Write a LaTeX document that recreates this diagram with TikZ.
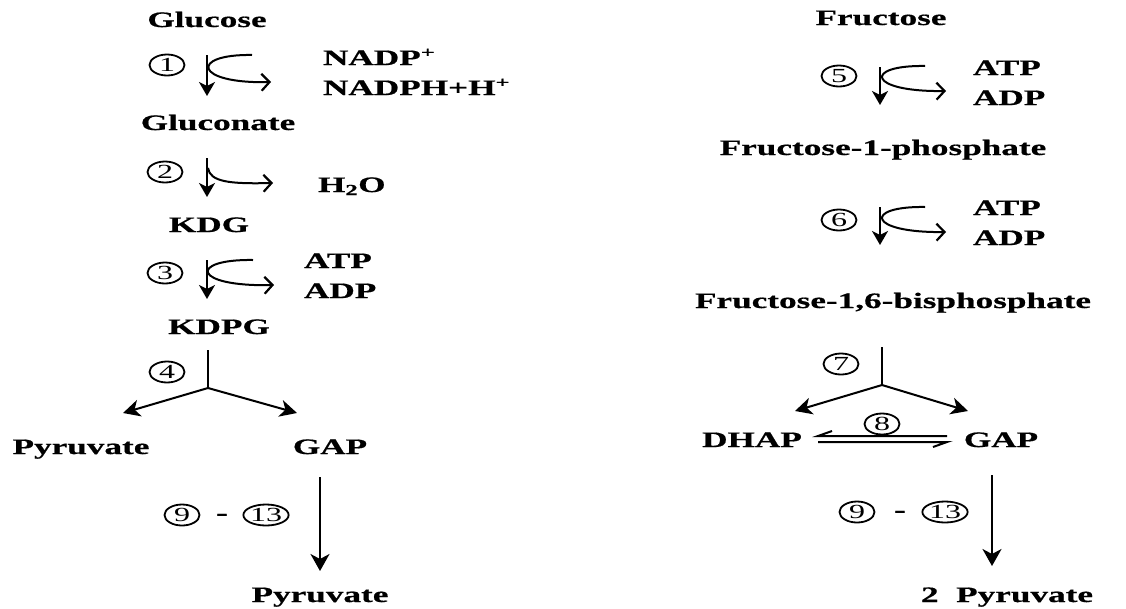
\documentclass[tikz,border=0pt]{standalone}
\usepackage{fontspec}
\setmainfont{Liberation Serif}[FakeStretch=1.6,BoldFeatures={FakeBold=0.6}]
\usetikzlibrary{arrows.meta,shapes.geometric}

\begin{document}
\begin{tikzpicture}[x=1pt,y=-1pt,line width=2pt,
  lbl/.style={font=\bfseries\fontsize{22}{26}\selectfont,inner sep=0pt,anchor=base},
  side/.style={lbl,anchor=base west},
  num/.style={ellipse,draw,line width=1.8pt,minimum width=35pt,minimum height=21pt,
              inner sep=0pt,font=\fontsize{20}{20}\selectfont},
  dashlbl/.style={lbl,anchor=center},
  stepdown/.style={-{Stealth[length=14pt,width=16pt,inset=4pt]}},
  cofactor/.style={-{Straight Barb[length=8pt,width=17pt,line width=2.2pt]}},
  split/.style={-{Stealth[length=17pt,width=17pt,inset=5pt]}},
  longarrow/.style={-{Stealth[length=17pt,width=19pt,inset=5pt]}}]
\useasboundingbox (0,0) rectangle (1126,608);

% ---------- Entner-Doudoroff branch (glucose) ----------
\node[lbl]  (glc)   at (207,27)  {Glucose};
\node[lbl]  (glcn)  at (218,130) {Gluconate};
\node[lbl]  (kdg)   at (209,232) {KDG};
\node[lbl]  (kdpg)  at (219,334) {KDPG};
\node[lbl]  (pyrA)  at (81,454)  {Pyruvate};
\node[lbl]  (gapA)  at (330,454) {GAP};
\node[lbl]  (pyrB)  at (320,602) {Pyruvate};

\node[side] (nadp)  at (322,65)  {NADP\textsuperscript{+}};
\node[side] (nadph) at (322,95)  {NADPH+H\textsuperscript{+}};
\node[side] (water) at (317,192) {H\textsubscript{2}O};
\node[side] (atp3)  at (303,268) {ATP};
\node[side] (adp3)  at (303,298) {ADP};

\node[num] (n1) at (167,65)  {1};
\node[num] (n2) at (165,172) {2};
\node[num] (n3) at (165,273) {3};
\node[num] (n4) at (167,372) {4};
\node[num] (n9a) at (182,515) {9};
\node[dashlbl] (da) at (222,517) {-};
\node[num] (n13a) at (266,515) {13};

% step 1
\coordinate (s1a) at (207,55);  \coordinate (s1b) at (207,96);
\coordinate (c1a) at (252,55);  \coordinate (c1b) at (271,82);
\draw[stepdown] (s1a) -- (s1b);
\draw[cofactor] (c1a) .. controls (189,54) and (194,84) .. (c1b);
% step 2
\coordinate (s2a) at (207,158); \coordinate (s2b) at (207,197);
\coordinate (c2a) at (208,168); \coordinate (c2b) at (273,183);
\draw[stepdown] (s2a) -- (s2b);
\draw[cofactor] (c2a) .. controls (210,182) and (230,184) .. (c2b);
% step 3
\coordinate (s3a) at (207,260); \coordinate (s3b) at (207,299);
\coordinate (c3a) at (253,260); \coordinate (c3b) at (274,285);
\draw[stepdown] (s3a) -- (s3b);
\draw[cofactor] (c3a) .. controls (188,259) and (192,287) .. (c3b);
% step 4: aldolase split
\coordinate (s4a) at (208,350); \coordinate (s4b) at (208,388);
\coordinate (s4l) at (123,413); \coordinate (s4r) at (297,413);
\draw (s4a) -- (s4b);
\draw[split] (s4b) -- (s4l);
\draw[split] (s4b) -- (s4r);
% steps 9-13
\coordinate (l1a) at (320,477); \coordinate (l1b) at (320,571);
\draw[longarrow] (l1a) -- (l1b);

% ---------- Fructose branch ----------
\node[lbl]  (fru)  at (881,25)  {Fructose};
\node[lbl]  (f1p)  at (883,155) {Fructose-1-phosphate};
\node[lbl]  (fbp)  at (893,308) {Fructose-1,6-bisphosphate};
\node[lbl]  (dhap) at (752,447) {DHAP};
\node[lbl]  (gapB) at (1001,447) {GAP};
\node[side] (pyrC) at (920,602) {2\ \ Pyruvate};

\node[side] (atp5) at (972,75)  {ATP};
\node[side] (adp5) at (972,105) {ADP};
\node[side] (atp6) at (972,215) {ATP};
\node[side] (adp6) at (972,245) {ADP};

\node[num] (n5) at (839,76)  {5};
\node[num] (n6) at (839,220) {6};
\node[num] (n7) at (841,364) {7};
\node[num] (n8) at (882,424) {8};
\node[num] (n9b) at (857,512) {9};
\node[dashlbl] (db) at (900,514) {-};
\node[num] (n13b) at (945,512) {13};

% step 5
\coordinate (s5a) at (880,67);  \coordinate (s5b) at (880,105);
\coordinate (c5a) at (925,66);  \coordinate (c5b) at (946,91);
\draw[stepdown] (s5a) -- (s5b);
\draw[cofactor] (c5a) .. controls (863,65) and (867,92) .. (c5b);
% step 6
\coordinate (s6a) at (880,207); \coordinate (s6b) at (880,245);
\coordinate (c6a) at (925,207); \coordinate (c6b) at (946,232);
\draw[stepdown] (s6a) -- (s6b);
\draw[cofactor] (c6a) .. controls (863,206) and (867,233) .. (c6b);
% step 7: aldolase split
\coordinate (s7a) at (882,347); \coordinate (s7b) at (882,385);
\coordinate (s7l) at (795,411); \coordinate (s7r) at (968,411);
\draw (s7a) -- (s7b);
\draw[split] (s7b) -- (s7l);
\draw[split] (s7b) -- (s7r);
% step 8: triose phosphate isomerase equilibrium
\coordinate (e1r) at (947,436); \coordinate (e1l) at (818,436);
\coordinate (e2l) at (818,442); \coordinate (e2r) at (947,442);
\draw[line join=miter] (e1r) -- (e1l) -- ++(14,-5);
\draw[line join=miter] (e2l) -- (e2r) -- ++(-14,5);
% steps 9-13
\coordinate (l2a) at (992,475); \coordinate (l2b) at (992,566);
\draw[longarrow] (l2a) -- (l2b);
\end{tikzpicture}
\end{document}
